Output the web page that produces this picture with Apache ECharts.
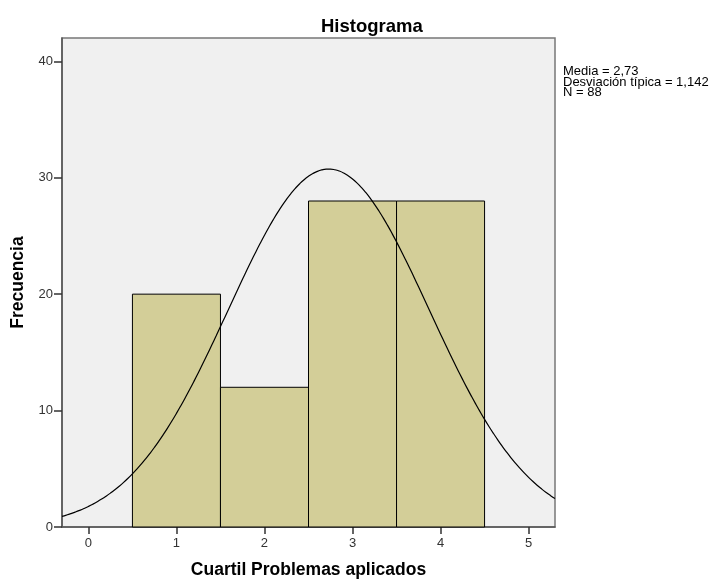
<!DOCTYPE html>
<html>
<head>
<meta charset="utf-8">
<script src="https://cdn.jsdelivr.net/npm/echarts@6/dist/echarts.min.js"></script>
<style>html,body{margin:0;padding:0;background:#fff;}#c{width:709px;height:579px;}</style>
</head>
<body>
<div id="c"></div>
<script>
// Histogram data
const binCenters = [1, 2, 3, 4];
const binCounts = [20, 12, 28, 28];
const binWidth = 1;
const xTicks = [0, 1, 2, 3, 4, 5];
const yTicks = [0, 10, 20, 30, 40];
// Fitted normal curve parameters (from chart legend)
const mean = 2.73;
const sd = 1.142;
const n = 88;

const curve = [];
for (let x = -0.3; x <= 5.3001; x += 0.05) {
  const y = n * binWidth / (sd * Math.sqrt(2 * Math.PI)) * Math.exp(-0.5 * Math.pow((x - mean) / sd, 2));
  curve.push([x, y]);
}

const chart = echarts.init(document.getElementById('c'));
const font = "'Liberation Sans', Arial, sans-serif";
chart.setOption({
  animation: false,
  title: {
    text: 'Histograma', left: 316, top: 12,
    textStyle: { fontFamily: font, fontSize: 18.5, fontWeight: 'bold', color: '#000' }
  },
  grid: {
    left: 62, top: 38, right: 154, bottom: 52,
    outerBoundsMode: 'none', containLabel: false,
    show: true, backgroundColor: '#f0f0f0', borderColor: '#777', borderWidth: 1.5
  },
  xAxis: {
    type: 'value', min: -0.3, max: 5.3,
    name: 'Cuartil Problemas aplicados', nameLocation: 'middle', nameGap: 34,
    nameTextStyle: { fontFamily: font, fontSize: 17.5, fontWeight: 'bold', color: '#000' },
    axisLine: { show: true, onZero: false, lineStyle: { color: '#555', width: 1.5 } },
    axisTick: { show: true, length: 7, customValues: xTicks, lineStyle: { color: '#333', width: 1.5 } },
    axisLabel: { customValues: xTicks, fontFamily: font, fontSize: 13, color: '#333', margin: 10 },
    splitLine: { show: false }
  },
  yAxis: {
    type: 'value', min: 0, max: 42, interval: 10,
    name: 'Frecuencia', nameLocation: 'middle', nameGap: 35,
    nameTextStyle: { fontFamily: font, fontSize: 17.5, fontWeight: 'bold', color: '#000' },
    axisLine: { show: true, onZero: false, lineStyle: { color: '#555', width: 1.5 } },
    axisTick: { show: true, length: 8, customValues: yTicks, lineStyle: { color: '#333', width: 1.5 } },
    axisLabel: { customValues: yTicks, fontFamily: font, fontSize: 13, color: '#333', margin: 9 },
    splitLine: { show: false }
  },
  graphic: [{
    type: 'text', left: 563, top: 65,
    style: {
      text: 'Media = 2,73\nDesviación típica = 1,142\nN = 88',
      font: "13px 'Liberation Sans', Arial, sans-serif",
      fill: '#000', lineHeight: 10.5
    }
  }],
  series: [{
    type: 'custom',
    data: binCenters.map((c, i) => [c, binCounts[i]]),
    renderItem: function (params, api) {
      const x = api.value(0), y = api.value(1);
      const p0 = api.coord([x - binWidth / 2, y]);
      const p1 = api.coord([x + binWidth / 2, 0]);
      return {
        type: 'rect',
        shape: { x: p0[0], y: p0[1], width: p1[0] - p0[0], height: p1[1] - p0[1] },
        style: { fill: '#d3ce98', stroke: '#000', lineWidth: 1 }
      };
    },
    z: 2
  }, {
    type: 'line', data: curve, showSymbol: false, smooth: true,
    lineStyle: { color: '#000', width: 1.2 }, clip: true, z: 3
  }]
});
</script>
</body>
</html>
